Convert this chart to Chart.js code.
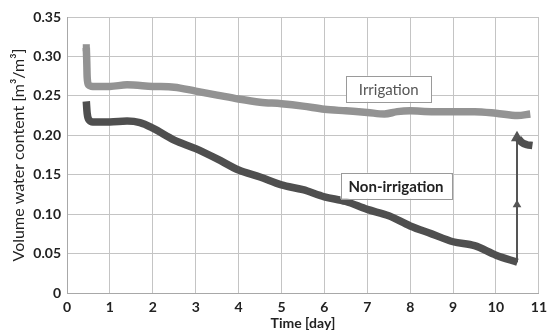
<!DOCTYPE html>
<html>
<head>
<meta charset="utf-8">
<script src="https://cdn.jsdelivr.net/npm/chart.js@4.4.0/dist/chart.umd.min.js"></script>
<style>
  html, body { margin: 0; padding: 0; background: #fff; }
</style>
</head>
<body>
<canvas id="waterChart" width="553" height="332"></canvas>
<script>
// Time [day] and volume water content
const irrX = [0.45, 0.46, 0.47, 0.5, 0.6, 1.0, 1.4, 2.0, 2.5, 3.0, 3.5, 4.0, 4.5, 5.0, 5.5, 6.0, 6.5, 7.0, 7.4, 7.7, 8.0, 8.5, 9.0, 9.5, 10.0, 10.5, 10.8];
const irrY = [0.311, 0.295, 0.274, 0.264, 0.262, 0.262, 0.264, 0.262, 0.261, 0.256, 0.251, 0.246, 0.242, 0.240, 0.237, 0.233, 0.231, 0.229, 0.227, 0.230, 0.231, 0.230, 0.230, 0.230, 0.228, 0.225, 0.227];

const nonX = [0.45, 0.47, 0.52, 0.6, 1.0, 1.4, 1.7, 2.0, 2.5, 3.0, 3.5, 4.0, 4.5, 5.0, 5.5, 6.0, 6.5, 7.0, 7.5, 8.0, 8.5, 9.0, 9.5, 10.0, 10.5];
const nonY = [0.243, 0.228, 0.219, 0.217, 0.217, 0.218, 0.216, 0.209, 0.194, 0.183, 0.170, 0.156, 0.147, 0.137, 0.131, 0.122, 0.116, 0.106, 0.098, 0.085, 0.075, 0.065, 0.060, 0.048, 0.039];

// after the irrigation step at the end
const nonAfterX = [10.52, 10.6, 10.72, 10.85];
const nonAfterY = [0.196, 0.191, 0.188, 0.187];

const arrowX = [10.49, 10.49, 10.49];
const arrowY = [0.039, 0.112, 0.197];

const xTicks = [0, 1, 2, 3, 4, 5, 6, 7, 8, 9, 10, 11];
const yTicks = [0, 0.05, 0.10, 0.15, 0.20, 0.25, 0.30, 0.35];
const yTickLabels = ['0', '0.05', '0.10', '0.15', '0.20', '0.25', '0.30', '0.35'];

const seriesNames = ['Irrigation', 'Non-irrigation'];

const toPoints = (xs, ys) => xs.map((x, i) => ({ x: x, y: ys[i] }));

// boxed labels on the plot
const boxLabels = {
    id: 'boxLabels',
    afterDatasetsDraw(chart) {
        const ctx = chart.ctx;
        const x = chart.scales.x, y = chart.scales.y;
        const items = [
            { text: seriesNames[0], at: [7.5, 0.259], w: 85, font: '15px Lato', color: '#555' },
            { text: seriesNames[1], at: [7.67, 0.136], w: 111, font: 'bold 15px Lato', color: '#222' }
        ];
        ctx.save();
        items.forEach(it => {
            const cx = x.getPixelForValue(it.at[0]);
            const cy = y.getPixelForValue(it.at[1]);
            ctx.fillStyle = '#fff';
            ctx.strokeStyle = '#9a9a9a';
            ctx.lineWidth = 1;
            ctx.fillRect(cx - it.w / 2, cy - 13, it.w, 26);
            ctx.strokeRect(Math.round(cx - it.w / 2) + 0.5, Math.round(cy - 13) + 0.5, it.w, 26);
            ctx.font = it.font;
            ctx.fillStyle = it.color;
            ctx.textAlign = 'center';
            ctx.textBaseline = 'middle';
            ctx.fillText(it.text, cx, cy + 1);
        });
        ctx.restore();
    }
};

const ctxWater = document.getElementById('waterChart').getContext('2d');

new Chart(ctxWater, {
    type: 'line',
    data: {
        datasets: [{
            label: seriesNames[0],
            data: toPoints(irrX, irrY),
            borderColor: '#939393',
            backgroundColor: '#939393',
            borderWidth: 7.5,
            borderJoinStyle: 'round',
            cubicInterpolationMode: 'monotone',
            pointStyle: 'rect',
            pointRadius: c => c.dataIndex === 0 ? 5 : 0,
            pointBorderWidth: 0
        }, {
            label: seriesNames[1],
            data: toPoints(nonX, nonY),
            borderColor: '#4f4f4f',
            borderWidth: 7.5,
            borderJoinStyle: 'round',
            cubicInterpolationMode: 'monotone',
            pointRadius: 0
        }, {
            label: seriesNames[1] + ' (after)',
            data: toPoints(nonAfterX, nonAfterY),
            borderColor: '#4f4f4f',
            borderWidth: 7.5,
            borderJoinStyle: 'round',
            cubicInterpolationMode: 'monotone',
            pointRadius: 0
        }, {
            label: 'arrow',
            data: toPoints(arrowX, arrowY),
            borderColor: '#555',
            backgroundColor: '#555',
            borderWidth: 2,
            pointStyle: 'triangle',
            pointRadius: c => c.dataIndex === 0 ? 0 : (c.dataIndex === 2 ? 7 : 5),
            pointBorderWidth: 0
        }]
    },
    options: {
        responsive: false,
        animation: false,
        layout: { padding: { top: 17, right: 6, left: 0, bottom: 0 } },
        plugins: {
            legend: { display: false },
            tooltip: { enabled: false }
        },
        scales: {
            x: {
                type: 'linear',
                min: 0,
                max: 11,
                afterBuildTicks: s => { s.ticks = xTicks.map(v => ({ value: v })); },
                afterFit: s => { s.height = 39; },
                grid: { color: '#c4c4c4', drawTicks: false },
                border: { color: '#a8a8a8' },
                ticks: {
                    padding: 6,
                    color: '#222',
                    font: { family: 'Lato', size: 14, weight: 'bold' }
                },
                title: {
                    display: true,
                    text: 'Time [day]',
                    color: '#222',
                    padding: 0,
                    font: { family: 'Lato', size: 14, weight: 'bold' }
                }
            },
            y: {
                min: 0,
                max: 0.35,
                afterBuildTicks: s => { s.ticks = yTicks.map(v => ({ value: v })); },
                afterFit: s => { s.width = 67; },
                grid: { color: '#c4c4c4', drawTicks: false },
                border: { color: '#a8a8a8' },
                ticks: {
                    padding: 6,
                    color: '#222',
                    font: { family: 'Lato', size: 14, weight: 'bold' },
                    callback: (v, i) => yTickLabels[i]
                },
                title: {
                    display: true,
                    text: 'Volume water content [m\u00b3/m\u00b3]',
                    color: '#222',
                    padding: { top: 9, bottom: 0 },
                    font: { family: 'Lato', size: 16 }
                }
            }
        }
    },
    plugins: [boxLabels]
});
</script>
</body>
</html>
